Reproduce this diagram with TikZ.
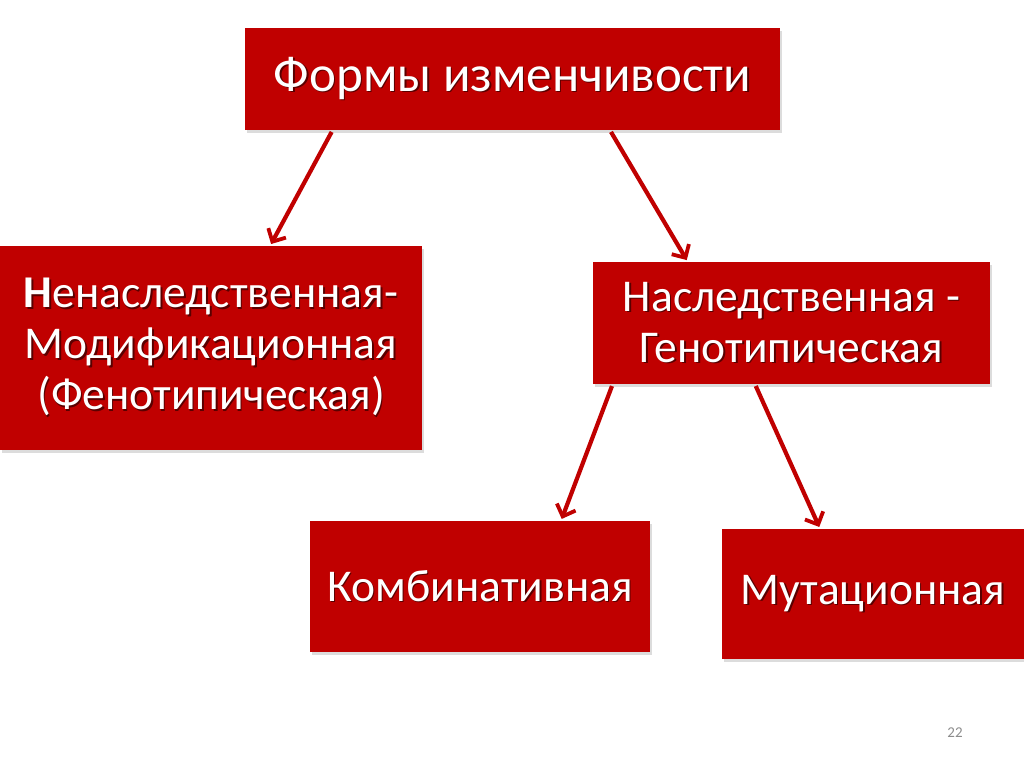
\documentclass[tikz,border=0pt]{standalone}
\usepackage{fontspec}
\setmainfont{Carlito}
\usetikzlibrary{arrows.meta,shadows,calc}
\definecolor{boxred}{HTML}{C00000}
\definecolor{txtsh}{HTML}{5A0000}
\newcommand{\shl}[1]{\makebox[0pt][l]{\kern1.5pt\raisebox{-1.5pt}{\color{txtsh}#1}}#1}
\tikzset{
  box/.style={fill=boxred, draw=none, text=white, align=center, inner sep=0pt,
    drop shadow={shadow xshift=2pt, shadow yshift=-3pt, fill=black!30, opacity=0.45}},
  conn/.style={draw=boxred, line width=4.2pt, shorten >=2pt, shorten <=2pt,
    -{Straight Barb[length=10pt,width=20pt,line width=3.8pt]}},
}
\begin{document}
\begin{tikzpicture}[x=1pt,y=-1pt]
\useasboundingbox (0,0) rectangle (1024,767);
\node[box, minimum width=535pt, minimum height=102pt, font=\fontsize{51}{56}\selectfont] (top) at (512.5,79) {\shl{Формы изменчивости}};
\node[box, minimum width=422pt, minimum height=204pt, font=\fontsize{45.5}{51}\selectfont] (nonher) at (211,348)
  {\shl{\textbf{Н}енаследственная-}\\\shl{Модификационная}\\\shl{(Фенотипическая)}};
\node[box, minimum width=397pt, minimum height=122pt, font=\fontsize{45.5}{51}\selectfont] (her) at (791.5,323)
  {\shl{Наследственная -}\\\shl{Генотипическая}};
\node[box, minimum width=340pt, minimum height=131pt, font=\fontsize{45.5}{51}\selectfont] (comb) at (480,586.5) {\shl{Комбинативная}};
\node[box, minimum width=302pt, minimum height=130pt, font=\fontsize{45.5}{51}\selectfont] (mut) at (873,594) {\shl{Мутационная}};
\node[text=black!45, font=\fontsize{15}{18}\selectfont] (num) at (955,733) {22};
\draw[conn] ($(top.south west)!0.164!(top.south east)$) -- ($(nonher.north west)!0.64!(nonher.north east)$);
\draw[conn] ($(top.south west)!0.682!(top.south east)$) -- ($(her.north west)!0.239!(her.north east)$);
\draw[conn] ($(her.south west)!0.05!(her.south east)$) -- ($(comb.north west)!0.738!(comb.north east)$);
\draw[conn] ($(her.south west)!0.408!(her.south east)$) -- ($(mut.north west)!0.325!(mut.north east)$);
\end{tikzpicture}
\end{document}
